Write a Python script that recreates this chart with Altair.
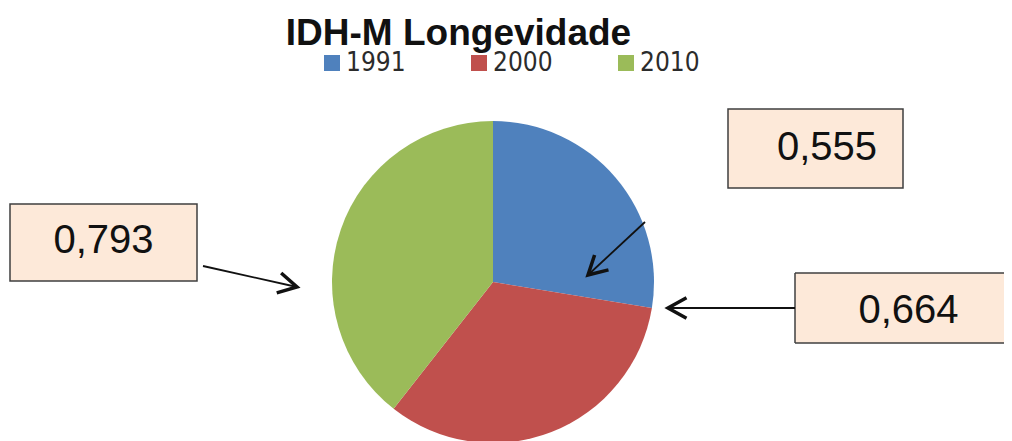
import altair as alt
import pandas as pd

# ---- data ----
years = ["1991", "2000", "2010"]
values = [0.555, 0.664, 0.793]
colors = ["#4F81BD", "#C0504D", "#9BBB59"]
chart_title = "IDH-M Longevidade"

labels = [f"{v:.3f}".replace(".", ",") for v in values]
df = pd.DataFrame({"year": years, "value": values, "label": labels})
title_df = pd.DataFrame({"t": [chart_title]})

W, H = 996, 433
BOX_FILL = "#FDE9D9"
BOX_STROKE = "#3F3F3F"
ARROW = "#111111"
CHEVRON = "M-1,-0.55L0,0L-1,0.55"

# pie
pie = alt.Chart(df).mark_arc(outerRadius=161).encode(
    theta=alt.Theta("value:Q", stack=True),
    order=alt.Order("year:N", sort="ascending"),
    color=alt.Color(
        "year:N",
        scale=alt.Scale(domain=years, range=colors),
        legend=alt.Legend(
            orient="none", legendX=311, legendY=42, direction="horizontal",
            title=None, symbolType="square", symbolSize=256, symbolStrokeWidth=0,
            labelFont="DejaVu Sans Condensed", labelFontSize=26, labelColor="#2B2B2B",
            labelOffset=1, columnPadding=60, padding=0,
        ),
    ),
    x=alt.value(485),
    y=alt.value(274),
)

title = alt.Chart(title_df).mark_text(
    font="Liberation Sans", fontSize=37, fontWeight="bold", color="#111111",
    align="center", baseline="alphabetic",
).encode(text="t:N", x=alt.value(450.5), y=alt.value(37))


def box(year, x, x2, y, y2, tx, ty, open_right=False):
    base = alt.Chart(df).transform_filter(alt.datum.year == year)
    if open_right:
        r = base.mark_rect(fill=BOX_FILL).encode(
            x=alt.value(x), x2=alt.value(x2), y=alt.value(y), y2=alt.value(y2)
        )
        edges = [
            base.mark_rule(color=BOX_STROKE, strokeWidth=1.5).encode(
                x=alt.value(x), x2=alt.value(x2), y=alt.value(y)),
            base.mark_rule(color=BOX_STROKE, strokeWidth=1.5).encode(
                x=alt.value(x), x2=alt.value(x2), y=alt.value(y2)),
            base.mark_rule(color=BOX_STROKE, strokeWidth=1.5).encode(
                x=alt.value(x), y=alt.value(y), y2=alt.value(y2)),
        ]
        for e in edges:
            r = r + e
    else:
        r = base.mark_rect(fill=BOX_FILL, stroke=BOX_STROKE, strokeWidth=1.5).encode(
            x=alt.value(x), x2=alt.value(x2), y=alt.value(y), y2=alt.value(y2)
        )
    t = base.mark_text(
        font="Liberation Sans", fontSize=40, color="#111111",
        align="center", baseline="alphabetic",
    ).encode(text="label:N", x=alt.value(tx), y=alt.value(ty))
    return r + t


def arrow(year, x1, y1, x2, y2, ang):
    base = alt.Chart(df).transform_filter(alt.datum.year == year)
    line = base.mark_rule(color=ARROW, strokeWidth=1.8).encode(
        x=alt.value(x1), y=alt.value(y1), x2=alt.value(x2), y2=alt.value(y2)
    )
    head = base.mark_point(
        shape=CHEVRON, filled=False, stroke=ARROW, strokeWidth=3.5,
        size=1369, angle=ang, opacity=1,
    ).encode(x=alt.value(x2), y=alt.value(y2))
    return line + head


layers = (
    pie
    + title
    + box("1991", 720, 895, 101, 180, 819, 152)
    + box("2010", 2, 189, 196, 273, 95.5, 245)
    + box("2000", 787, 996, 265, 335, 900.5, 315, open_right=True)
    + arrow("2010", 195, 258, 289, 279, 12.6)
    + arrow("2000", 787, 300, 660, 300, 180)
    + arrow("1991", 637, 214, 580, 267, 137)
)

chart = layers.properties(
    width=W, height=H,
    autosize=alt.AutoSizeParams(type="none"),
    padding=0,
).configure_view(stroke=None)

chart.save("out.html", embed_options={"renderer": "svg", "actions": False})
